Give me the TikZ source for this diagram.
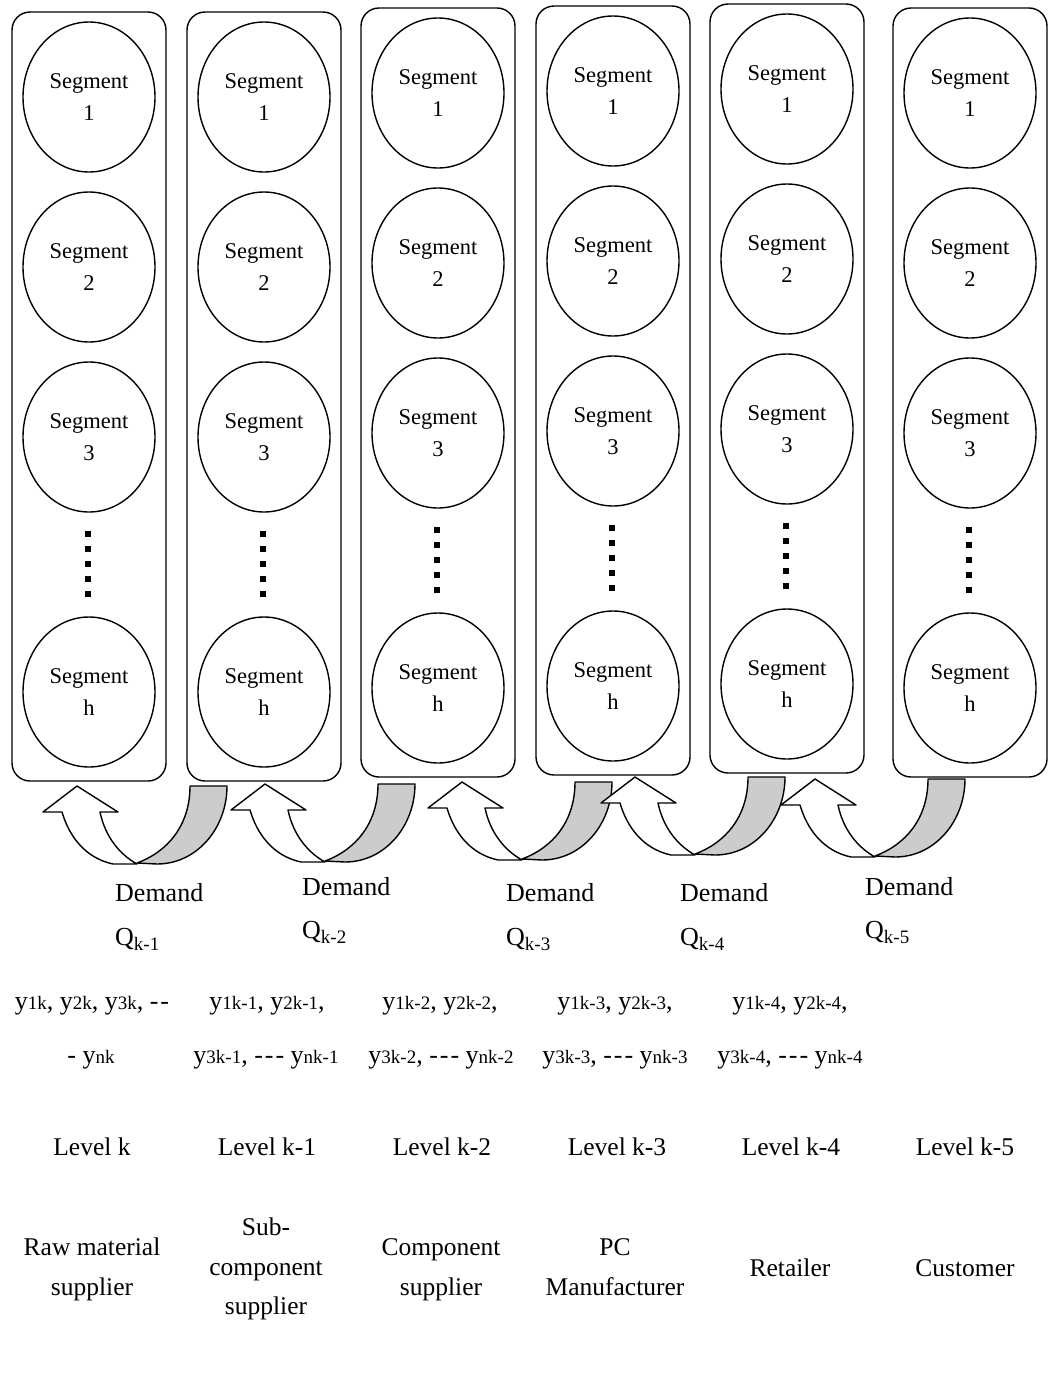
\documentclass[tikz,border=0pt]{standalone}
\usepackage{fontspec}
\setmainfont{Liberation Serif}
\usetikzlibrary{shapes.geometric}
\definecolor{bandgray}{HTML}{CCCCCC}
% small subscripts for the y and Q quantities
\newcommand\ysub[1]{{\fontsize{19}{19}\selectfont #1}}
\newcommand\qsub[1]{\raisebox{-5pt}{\fontsize{19}{19}\selectfont #1}}
% spaced run of three hyphens
\newcommand\threedash{-\kern2pt-\kern2pt-}
\tikzset{
  colbox/.style={draw, line width=1.4pt, rounded corners=18pt,
    minimum width=154pt, minimum height=769pt, inner sep=0pt},
  seg/.style={draw, line width=1.4pt, ellipse, minimum width=132pt,
    minimum height=150pt, inner sep=0pt, align=center,
    font=\fontsize{22.5}{32}\selectfont},
  lbl/.style={inner sep=0pt, font=\fontsize{26}{30}\selectfont},
  ytxt/.style={inner sep=0pt, anchor=base, font=\fontsize{26}{30}\selectfont},
  caption/.style={inner sep=0pt, anchor=base, font=\fontsize{25.5}{30}\selectfont},
  band/.style={fill=bandgray, draw=black, line width=1.4pt, line join=round},
  shaft/.style={fill=white, draw=black, line width=1.4pt, line join=round},
  % U-turn block arrow; origin at the arrow tip
  demand arrow/.pic={
    \path[band] (60,77) .. controls (90,66) and (113,40) .. (113,0)
      -- (150,0) .. controls (150,42) and (120,78) .. (80,78) -- cycle;
    \path[shaft] (0,0) -- (-34,26) -- (-15,26)
      .. controls (-8,50) and (8,72) .. (36,78) -- (60,78)
      .. controls (42,68) and (28,50) .. (23,26) -- (41,26) -- cycle;
  }
}
\begin{document}
\begin{tikzpicture}[x=1pt,y=-1pt]
\useasboundingbox (0,0) rectangle (1051,1395);

% supply-chain levels: boxes of segments
\foreach \c/\x/\dy in {1/89/0,2/264/0,3/438/-4,4/613/-6,5/787/-8,6/970/-4}{
  \node[colbox] (col\c) at (\x,{396.5+\dy}) {};
  \node[seg] (seg\c-1) at (\x,{97+\dy}) {Segment\\1};
  \node[seg] (seg\c-2) at (\x,{267+\dy}) {Segment\\2};
  \node[seg] (seg\c-3) at (\x,{437+\dy}) {Segment\\3};
  \node[seg] (seg\c-h) at (\x,{692+\dy}) {Segment\\h};
  \foreach \k in {0,...,4}
    \fill ({\x-4},{531+\dy+15*\k}) rectangle ++(6,6);
}

% demand arrows from each level to the one before it
\foreach \n/\tx/\ty in {1/77/786,2/265/784,3/462/782,4/635/777,5/815/779}
  \pic (arr\n) at (\tx,\ty) {demand arrow};

% demand labels
\foreach \n/\lx/\db/\qb in {1/115/901/945,2/302/895/938,3/506/901/945,4/680/901/945,5/865/895/938}{
  \node[lbl, anchor=base west] (dem\n) at (\lx,\db) {Demand};
  \node[lbl, anchor=base west] (q\n) at (\lx,\qb) {Q\qsub{k-\n}};
}

% order quantities
\node[ytxt] (y1a) at (92,1009) {y\ysub{1k}, y\ysub{2k}, y\ysub{3k}, -\kern2pt-};
\node[ytxt] (y1b) at (91,1063) {- y\ysub{nk}};
\node[ytxt] (y2a) at (267,1009) {y\ysub{1k-1}, y\ysub{2k-1},};
\node[ytxt] (y2b) at (266,1063) {y\ysub{3k-1}, \threedash{} y\ysub{nk-1}};
\node[ytxt] (y3a) at (440,1009) {y\ysub{1k-2}, y\ysub{2k-2},};
\node[ytxt] (y3b) at (441,1063) {y\ysub{3k-2}, \threedash{} y\ysub{nk-2}};
\node[ytxt] (y4a) at (615,1009) {y\ysub{1k-3}, y\ysub{2k-3},};
\node[ytxt] (y4b) at (615,1063) {y\ysub{3k-3}, \threedash{} y\ysub{nk-3}};
\node[ytxt] (y5a) at (790,1009) {y\ysub{1k-4}, y\ysub{2k-4},};
\node[ytxt] (y5b) at (790,1063) {y\ysub{3k-4}, \threedash{} y\ysub{nk-4}};

% level names
\node[caption] (lv1) at (92,1155) {Level k};
\node[caption] (lv2) at (267,1155) {Level k-1};
\node[caption] (lv3) at (442,1155) {Level k-2};
\node[caption] (lv4) at (617,1155) {Level k-3};
\node[caption] (lv5) at (791,1155) {Level k-4};
\node[caption] (lv6) at (965,1155) {Level k-5};

% roles in the chain
\node[caption] (r1a) at (92,1255) {Raw material};
\node[caption] (r1b) at (92,1295) {supplier};
\node[caption] (r2a) at (266,1235) {Sub-};
\node[caption] (r2b) at (266,1275) {component};
\node[caption] (r2c) at (266,1314) {supplier};
\node[caption] (r3a) at (441,1255) {Component};
\node[caption] (r3b) at (441,1295) {supplier};
\node[caption] (r4a) at (615,1255) {PC};
\node[caption] (r4b) at (615,1295) {Manufacturer};
\node[caption] (r5) at (790,1276) {Retailer};
\node[caption] (r6) at (965,1276) {Customer};
\end{tikzpicture}
\end{document}
